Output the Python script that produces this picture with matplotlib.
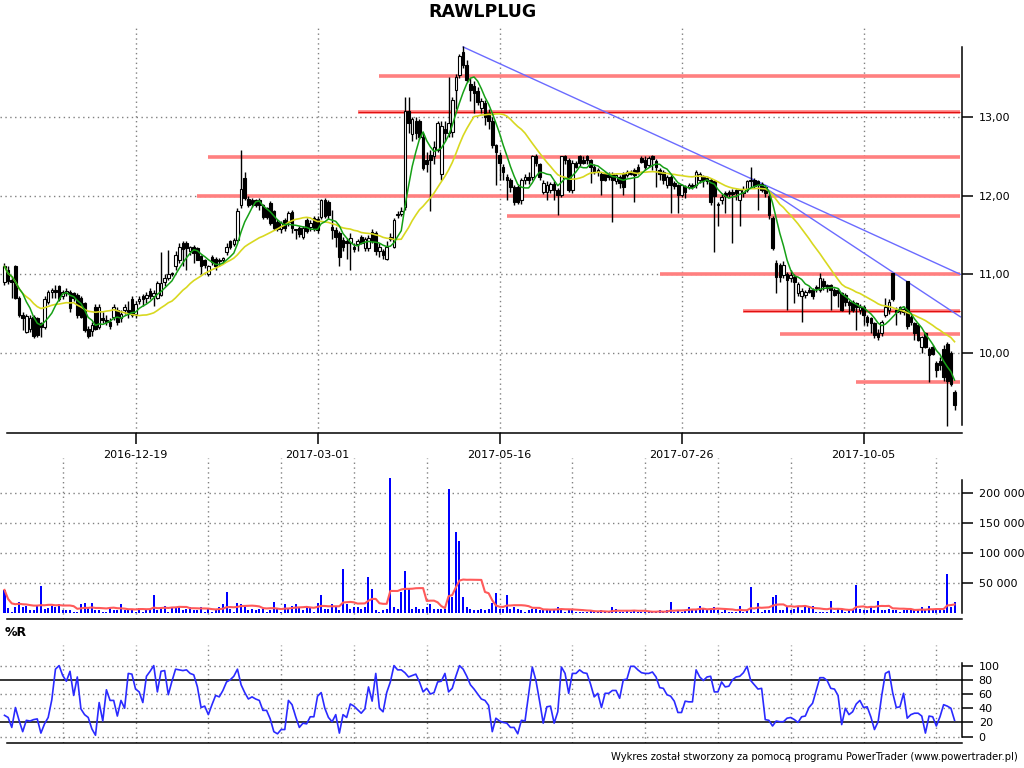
import numpy as np
import pandas as pd
import matplotlib
matplotlib.use('Agg')
import matplotlib.pyplot as plt

plt.rcParams['font.family'] = ['DejaVu Sans']

title = 'RAWLPLUG'
footer = 'Wykres został stworzony za pomocą programu PowerTrader (www.powertrader.pl)'

# sesje GPW (dni wolne)
holidays = ['2016-11-01', '2016-11-11', '2016-12-26', '2017-01-06', '2017-04-14',
            '2017-04-17', '2017-05-01', '2017-05-03', '2017-06-15', '2017-08-15',
            '2017-11-01']
dates = pd.bdate_range('2016-10-26', periods=262, freq='C', holidays=holidays)
label_dates = ['2016-12-19', '2017-03-01', '2017-05-16', '2017-07-26', '2017-10-05']

opens = [
    10.90, 11.05, 10.93, 11.10, 10.70, 10.48, 10.27, 10.30, 10.46, 10.44,
    10.38, 10.33, 10.65, 10.78, 10.80, 10.85, 10.72, 10.76, 10.78, 10.76,
    10.74, 10.70, 10.63, 10.30, 10.28, 10.59, 10.33, 10.45, 10.42, 10.40,
    10.46, 10.55, 10.45, 10.55, 10.55, 10.69, 10.50, 10.66, 10.72, 10.70,
    10.79, 10.72, 10.70, 10.74, 10.90, 10.95, 11.00, 11.10, 11.18, 11.40,
    11.40, 11.30, 11.35, 11.33, 11.23, 11.18, 11.00, 11.22, 11.20, 11.18,
    11.18, 11.29, 11.42, 11.38, 11.44, 11.88, 12.22, 11.96, 11.95, 11.94,
    11.95, 11.88, 11.84, 11.91, 11.80, 11.67, 11.57, 11.69, 11.66, 11.79,
    11.56, 11.59, 11.48, 11.69, 11.60, 11.72, 11.70, 11.73, 11.95, 11.92,
    11.60, 11.56, 11.52, 11.44, 11.42, 11.40, 11.35, 11.38, 11.48, 11.34,
    11.33, 11.54, 11.52, 11.30, 11.30, 11.20, 11.45, 11.35, 11.76, 11.77,
    11.86, 13.07, 12.78, 12.95, 12.95, 12.75, 12.45, 12.52, 12.50, 12.58,
    12.28, 12.85, 12.79, 12.81, 13.34, 13.53, 13.83, 13.66, 13.42, 13.40,
    13.33, 13.12, 13.18, 13.05, 12.95, 12.65, 12.52, 12.37, 12.24, 12.20,
    12.11, 12.11, 11.94, 12.20, 12.24, 12.24, 12.50, 12.40, 12.05, 12.05,
    12.07, 12.15, 12.07, 12.01, 12.50, 12.45, 12.07, 12.41, 12.50, 12.45,
    12.50, 12.45, 12.37, 12.30, 12.28, 12.28, 12.28, 12.28, 12.18, 12.24,
    12.28, 12.26, 12.30, 12.33, 12.37, 12.48, 12.45, 12.39, 12.50, 12.44,
    12.33, 12.30, 12.14, 12.24, 12.16, 12.13, 12.01, 12.11, 12.11, 12.14,
    12.13, 12.20, 12.24, 12.22, 12.20, 12.18, 11.88, 11.95, 12.03, 12.05,
    12.05, 12.07, 11.95, 12.03, 12.07, 12.18, 12.20, 12.18, 12.15, 12.11,
    11.99, 11.71, 11.14, 11.12, 10.99, 11.01, 10.95, 10.97, 10.76, 10.72,
    10.74, 10.80, 10.80, 10.82, 10.80, 10.92, 10.86, 10.86, 10.80, 10.80,
    10.76, 10.74, 10.65, 10.65, 10.63, 10.55, 10.59, 10.46, 10.44, 10.38,
    10.25, 10.25, 10.48, 10.55, 11.02, 10.55, 10.58, 10.52, 10.91, 10.46,
    10.38, 10.36, 10.08, 10.25, 10.05, 10.08, 9.87, 9.90, 10.05, 10.12,
    10.00, 9.51]

high = [
    11.15, 11.10, 10.98, 11.12, 10.72, 10.52, 10.50, 10.48, 10.48, 10.46,
    10.40, 10.72, 10.80, 10.82, 10.86, 10.87, 10.80, 10.83, 10.80, 10.78,
    10.76, 10.72, 10.65, 10.34, 10.40, 10.62, 10.62, 10.52, 10.48, 10.45,
    10.62, 10.58, 10.55, 10.62, 10.66, 10.72, 10.66, 10.72, 10.75, 10.78,
    10.82, 10.80, 10.92, 11.28, 11.00, 11.31, 11.03, 11.30, 11.40, 11.42,
    11.42, 11.36, 11.37, 11.35, 11.25, 11.20, 11.12, 11.25, 11.22, 11.21,
    11.22, 11.40, 11.44, 11.46, 11.84, 12.58, 12.30, 12.00, 11.97, 11.96,
    11.97, 11.90, 11.86, 11.93, 11.82, 11.70, 11.68, 11.71, 11.80, 11.82,
    11.57, 11.62, 11.62, 11.71, 11.69, 11.74, 11.74, 11.96, 11.97, 11.94,
    11.82, 11.60, 11.55, 11.48, 11.46, 11.52, 11.40, 11.45, 11.50, 11.48,
    11.50, 11.58, 11.55, 11.40, 11.32, 11.42, 11.52, 11.72, 11.80, 11.86,
    13.26, 13.26, 13.00, 13.00, 12.97, 12.79, 12.55, 12.58, 12.70, 12.95,
    12.95, 12.95, 13.51, 13.25, 13.55, 13.80, 13.90, 13.72, 13.50, 13.46,
    13.38, 13.24, 13.22, 13.10, 13.00, 12.66, 12.55, 12.40, 12.28, 12.22,
    12.14, 12.14, 12.22, 12.27, 12.30, 12.52, 12.53, 12.42, 12.20, 12.18,
    12.17, 12.18, 12.10, 12.50, 12.52, 12.48, 12.45, 12.44, 12.52, 12.50,
    12.52, 12.47, 12.40, 12.35, 12.30, 12.30, 12.30, 12.30, 12.28, 12.26,
    12.30, 12.32, 12.33, 12.35, 12.40, 12.50, 12.50, 12.50, 12.52, 12.46,
    12.35, 12.32, 12.26, 12.26, 12.18, 12.15, 12.14, 12.13, 12.16, 12.16,
    12.32, 12.30, 12.26, 12.24, 12.22, 12.20, 11.92, 12.02, 12.06, 12.07,
    12.08, 12.09, 12.08, 12.12, 12.20, 12.37, 12.23, 12.20, 12.17, 12.13,
    12.02, 11.74, 11.18, 11.14, 11.17, 11.03, 11.05, 11.00, 10.90, 10.82,
    10.80, 10.84, 10.82, 10.86, 11.02, 10.95, 10.88, 10.88, 10.82, 10.82,
    10.78, 10.76, 10.67, 10.67, 10.65, 10.62, 10.61, 10.48, 10.46, 10.40,
    10.30, 10.42, 10.70, 10.68, 11.02, 10.58, 10.60, 10.60, 10.91, 10.48,
    10.40, 10.38, 10.22, 10.27, 10.08, 10.10, 9.90, 9.95, 10.10, 10.14,
    10.02, 9.53]

low = [
    10.86, 10.88, 10.70, 10.68, 10.46, 10.29, 10.25, 10.27, 10.19, 10.20,
    10.20, 10.30, 10.62, 10.70, 10.70, 10.66, 10.68, 10.72, 10.52, 10.66,
    10.45, 10.44, 10.27, 10.19, 10.22, 10.29, 10.30, 10.38, 10.35, 10.30,
    10.42, 10.36, 10.40, 10.50, 10.45, 10.46, 10.45, 10.62, 10.60, 10.64,
    10.68, 10.60, 10.68, 10.72, 10.85, 10.93, 10.98, 11.05, 11.15, 11.10,
    11.05, 11.25, 11.14, 11.18, 11.00, 11.08, 10.98, 11.12, 11.05, 11.10,
    11.15, 11.25, 11.32, 11.36, 11.42, 11.84, 11.95, 11.86, 11.86, 11.86,
    11.82, 11.70, 11.70, 11.63, 11.56, 11.55, 11.52, 11.55, 11.62, 11.52,
    11.45, 11.48, 11.45, 11.52, 11.55, 11.55, 11.52, 11.70, 11.72, 11.70,
    11.45, 11.35, 11.10, 11.30, 11.20, 11.06, 11.28, 11.30, 11.38, 11.30,
    11.30, 11.40, 11.24, 11.22, 11.20, 11.18, 11.42, 11.33, 11.72, 11.74,
    11.82, 12.79, 12.70, 12.72, 12.72, 12.33, 12.30, 11.80, 12.40, 12.55,
    12.20, 12.70, 12.75, 12.74, 13.10, 13.50, 13.62, 13.45, 13.20, 13.05,
    13.15, 13.05, 12.90, 12.85, 12.60, 12.13, 12.20, 12.20, 11.94, 12.05,
    11.88, 11.90, 11.90, 12.15, 12.15, 12.20, 12.38, 12.20, 12.02, 11.94,
    12.03, 11.94, 11.75, 11.98, 12.40, 12.05, 12.04, 12.35, 12.38, 12.40,
    12.40, 12.16, 12.28, 12.25, 12.01, 12.18, 12.20, 11.67, 12.15, 12.10,
    12.01, 12.24, 12.26, 11.92, 12.28, 12.41, 12.33, 12.36, 12.33, 12.11,
    12.20, 12.15, 12.10, 11.78, 12.08, 11.78, 11.98, 11.97, 12.08, 12.08,
    12.10, 12.16, 12.11, 12.15, 11.88, 11.29, 11.61, 11.90, 11.78, 11.98,
    11.40, 11.95, 11.61, 11.98, 12.05, 12.10, 12.10, 11.82, 12.05, 11.98,
    11.70, 11.31, 10.76, 10.90, 10.95, 10.55, 10.90, 10.63, 10.72, 10.40,
    10.70, 10.76, 10.68, 10.78, 10.78, 10.80, 10.78, 10.55, 10.72, 10.59,
    10.53, 10.60, 10.50, 10.52, 10.29, 10.50, 10.36, 10.34, 10.25, 10.19,
    10.17, 10.22, 10.46, 10.50, 10.66, 10.36, 10.50, 10.48, 10.30, 10.36,
    10.17, 10.15, 10.00, 10.06, 9.63, 9.97, 9.70, 9.78, 9.65, 9.07,
    9.58, 9.28]

close = [
    11.10, 10.92, 10.90, 10.70, 10.48, 10.44, 10.47, 10.44, 10.21, 10.23,
    10.33, 10.69, 10.78, 10.80, 10.78, 10.69, 10.77, 10.79, 10.57, 10.70,
    10.48, 10.46, 10.29, 10.21, 10.36, 10.31, 10.59, 10.42, 10.40, 10.34,
    10.59, 10.40, 10.50, 10.59, 10.52, 10.48, 10.62, 10.69, 10.68, 10.74,
    10.72, 10.76, 10.89, 10.89, 10.95, 11.00, 11.01, 11.25, 11.35, 11.32,
    11.33, 11.35, 11.27, 11.18, 11.10, 11.12, 11.10, 11.16, 11.10, 11.17,
    11.21, 11.35, 11.35, 11.44, 11.80, 12.09, 11.97, 11.88, 11.90, 11.88,
    11.88, 11.73, 11.73, 11.65, 11.59, 11.57, 11.65, 11.59, 11.78, 11.59,
    11.56, 11.51, 11.59, 11.55, 11.65, 11.57, 11.56, 11.94, 11.74, 11.76,
    11.56, 11.48, 11.22, 11.35, 11.40, 11.46, 11.32, 11.42, 11.40, 11.45,
    11.46, 11.42, 11.30, 11.35, 11.24, 11.35, 11.48, 11.69, 11.77, 11.80,
    13.07, 12.92, 12.97, 12.80, 12.75, 12.35, 12.40, 12.45, 12.62, 12.92,
    12.88, 12.80, 12.92, 13.21, 13.51, 13.77, 13.66, 13.47, 13.34, 13.30,
    13.19, 13.20, 13.00, 12.95, 12.65, 12.55, 12.41, 12.30, 12.20, 12.11,
    11.92, 11.92, 12.20, 12.24, 12.20, 12.50, 12.41, 12.24, 12.16, 12.13,
    12.15, 12.07, 12.01, 12.50, 12.45, 12.07, 12.41, 12.37, 12.41, 12.42,
    12.45, 12.37, 12.30, 12.32, 12.20, 12.20, 12.24, 12.20, 12.26, 12.16,
    12.11, 12.30, 12.28, 12.26, 12.30, 12.43, 12.37, 12.48, 12.46, 12.37,
    12.28, 12.20, 12.24, 12.14, 12.12, 12.01, 12.13, 12.05, 12.14, 12.11,
    12.30, 12.28, 12.20, 12.18, 11.92, 12.00, 11.90, 11.98, 11.99, 12.02,
    12.02, 12.03, 12.07, 12.09, 12.18, 12.20, 12.12, 12.14, 12.07, 12.03,
    11.76, 11.33, 10.97, 10.97, 11.12, 10.93, 10.99, 10.90, 10.88, 10.79,
    10.78, 10.78, 10.72, 10.84, 10.95, 10.85, 10.82, 10.80, 10.74, 10.76,
    10.55, 10.65, 10.61, 10.55, 10.59, 10.59, 10.48, 10.40, 10.38, 10.23,
    10.20, 10.40, 10.59, 10.65, 10.68, 10.52, 10.53, 10.56, 10.34, 10.40,
    10.25, 10.17, 10.20, 10.08, 9.98, 9.99, 9.78, 9.85, 9.70, 9.65,
    9.61, 9.34]

volume = [
    38000, 7500, 1000, 10000, 18000, 10000, 12000, 5000, 5000, 12000,
    45000, 6000, 8000, 11000, 9000, 14000, 5000, 5000, 5000, 1000,
    1000, 14000, 16000, 10000, 17000, 5000, 5000, 1000, 1000, 10000,
    5000, 5000, 14000, 5000, 7000, 5000, 1000, 8000, 1000, 7000,
    7000, 30000, 5000, 7000, 12000, 1000, 9000, 10000, 10000, 5000,
    7000, 9000, 5000, 5000, 10000, 1000, 7000, 1000, 5000, 10000,
    14000, 34000, 7000, 1000, 17000, 14000, 10000, 5000, 6000, 5000,
    6000, 6000, 1000, 5000, 18000, 7000, 1000, 14000, 7000, 12000,
    14000, 9000, 5000, 10000, 9000, 1000, 16000, 30000, 6000, 7000,
    14000, 9000, 5000, 73000, 14000, 6000, 9000, 9000, 7000, 9000,
    59000, 39000, 5000, 1000, 4000, 6000, 224000, 9000, 6000, 34000,
    70000, 39000, 7000, 9000, 6000, 6000, 10000, 14000, 6000, 6000,
    7000, 6000, 206000, 27000, 134000, 120000, 27000, 10000, 7000, 5000,
    5000, 6000, 5000, 6000, 16000, 33000, 7000, 6000, 30000, 6000,
    10000, 6000, 5000, 1000, 5000, 6000, 6000, 5000, 5000, 5000,
    7000, 7000, 10000, 5000, 1000, 5000, 5000, 1000, 1000, 1000,
    1000, 5000, 1000, 1000, 5000, 1000, 1000, 10000, 7000, 1000,
    1000, 5000, 1000, 4000, 1000, 1000, 1000, 1000, 1000, 1000,
    5000, 1000, 4000, 18000, 1000, 5000, 1000, 4000, 9000, 5000,
    5000, 12000, 7000, 7000, 5000, 10000, 5000, 1000, 5000, 1000,
    1000, 1000, 12000, 1000, 5000, 43000, 1000, 16000, 1000, 5000,
    5000, 27000, 30000, 5000, 5000, 10000, 5000, 7000, 9000, 5000,
    10000, 11000, 12000, 1000, 1000, 1000, 1000, 20000, 1000, 7000,
    7000, 1000, 7000, 4000, 46000, 7000, 5000, 5000, 9000, 5000,
    20000, 5000, 5000, 7000, 5000, 5000, 1000, 5000, 5000, 4000,
    4000, 7000, 9000, 5000, 12000, 5000, 5000, 5000, 5000, 64000,
    10000, 18000]

# Williams %R (odczyt z wykresu)
pct_r = [
    30, 27, 13, 41, 23, 7, 23, 22, 24, 25,
    5, 18, 27, 52, 95, 100, 86, 78, 92, 58,
    84, 39, 31, 27, 11, 2, 48, 22, 66, 51,
    51, 29, 51, 40, 89, 88, 67, 63, 48, 85,
    92, 100, 63, 92, 93, 59, 78, 95, 94, 93,
    94, 89, 87, 70, 41, 43, 31, 45, 58, 56,
    65, 77, 80, 85, 95, 73, 62, 53, 56, 53,
    51, 37, 37, 25, 7, 4, 10, 10, 51, 45,
    28, 13, 19, 18, 28, 28, 57, 62, 40, 27,
    21, 31, 5, 31, 27, 46, 43, 38, 33, 39,
    70, 50, 89, 40, 35, 62, 77, 100, 94, 94,
    90, 84, 86, 88, 77, 63, 68, 60, 62, 77,
    78, 89, 63, 68, 85, 100, 95, 85, 73, 67,
    60, 53, 51, 44, 7, 26, 22, 20, 19, 13,
    13, 4, 23, 22, 60, 98, 79, 50, 19, 42,
    43, 19, 35, 98, 89, 61, 89, 89, 94, 90,
    89, 74, 56, 61, 41, 61, 61, 65, 65, 54,
    80, 81, 99, 99, 94, 90, 89, 89, 91, 84,
    69, 68, 59, 57, 50, 34, 34, 50, 49, 49,
    94, 84, 79, 84, 85, 63, 63, 77, 70, 71,
    80, 84, 85, 90, 99, 79, 73, 67, 68, 24,
    23, 15, 22, 21, 21, 26, 27, 24, 20, 28,
    29, 41, 47, 65, 83, 83, 79, 68, 67, 58,
    17, 40, 31, 35, 46, 51, 41, 42, 28, 10,
    21, 58, 89, 92, 62, 41, 42, 61, 26, 31,
    33, 33, 29, 5, 29, 28, 15, 28, 45, 43,
    40, 23]

# linie wsparcia / oporu: poziom, pierwsza sesja
sr_levels = [13.525, 13.067, 12.495, 12.0, 11.745, 11.008, 10.53, 10.245, 9.63]
sr_start = [103, 97, 56, 53, 138, 180, 203, 213, 234]
sr_strong = [13.067, 10.53]
# linie trendu (sesja, kurs)
trend_lines = [[(126, 13.89), (262.6, 11.0)],
               [(205, 12.22), (262.6, 10.46)]]

df = pd.DataFrame({'o': opens, 'h': high, 'l': low, 'c': close, 'v': volume,
                   'r': pct_r}, index=dates)
x = np.arange(len(df))
ma_short = df['c'].rolling(6, min_periods=1).mean()
ma_long = df['c'].rolling(20, min_periods=1).mean()
vol_ma = df['v'].rolling(10, min_periods=1).mean()

W, H = 1024, 768
fig = plt.figure(figsize=(W / 100, H / 100), dpi=100)

def px_axes(x0, y0, x1, y1):
    return fig.add_axes([x0 / W, 1 - y1 / H, (x1 - x0) / W, (y1 - y0) / H])

ax1 = px_axes(0, 28, 962, 433)
ax2 = px_axes(0, 458, 962, 619)
ax3 = px_axes(0, 645, 962, 742.7)

xl = (-1.236, 263.05)
dot = (0, (1, 2.5))
tick_pos = dates.get_indexer(pd.to_datetime(label_dates))
grid20 = np.arange(16, len(df), 20)

for ax in (ax1, ax2, ax3):
    ax.set_xlim(*xl)
    for s in ('top', 'left'):
        ax.spines[s].set_visible(False)
    ax.spines['right'].set_linewidth(1.1)
    ax.spines['bottom'].set_linewidth(1.1)
    ax.spines['bottom'].set_bounds(0.69, xl[1])
    ax.yaxis.tick_right()
    ax.tick_params(axis='y', direction='out', length=8, width=1.1, labelsize=8, pad=4)

# --- panel cen ---
ax1.set_ylim(8.983, 14.131)
ax1.spines['right'].set_bounds(9.085, 13.89)
for lv in [10, 11, 12, 13]:
    ax1.axhline(lv, color='#808080', lw=1, ls=dot, zorder=0)
for t in tick_pos:
    ax1.axvline(t, color='#808080', lw=1, ls=dot, zorder=0)

for lv, st in zip(sr_levels, sr_start):
    ax1.hlines(lv, st, 262.6, color='#ff8080', lw=2.6, zorder=1)
    if lv in sr_strong:
        ax1.hlines(lv, st, 262.6, color='#e01010', lw=0.8, zorder=1)
for (x0, y0), (x1, y1) in trend_lines:
    ax1.plot([x0, x1], [y0, y1], color='#6b6bff', lw=1, zorder=2)

up = df['c'] >= df['o']
ax1.vlines(x, df['l'], df['h'], color='black', lw=1, zorder=3)
ax1.bar(x, (df['c'] - df['o']).abs().clip(lower=0.012), bottom=np.minimum(df['o'], df['c']),
        width=0.72, color=np.where(up, 'white', 'black'), edgecolor='black', lw=0.8, zorder=4)
ax1.plot(x, ma_long, color='#d8d820', lw=1.2, zorder=5)
ax1.plot(x, ma_short, color='#16a016', lw=1.1, zorder=6)

ax1.set_yticks([10, 11, 12, 13])
ax1.set_yticklabels(['10,00', '11,00', '12,00', '13,00'])
ax1.set_xticks(tick_pos)
ax1.set_xticklabels(label_dates)
ax1.tick_params(axis='x', direction='out', length=8, width=1.1, labelsize=8, pad=4)

# --- panel wolumenu ---
ax2.set_ylim(-10500, 258000)
ax2.spines['right'].set_bounds(0, 221000)
for lv in [50000, 100000, 150000, 200000]:
    ax2.axhline(lv, color='#808080', lw=1, ls=dot, zorder=0)
for t in grid20:
    ax2.axvline(t, color='#808080', lw=1, ls=dot, zorder=0)
ax2.bar(x, df['v'], width=0.55, color='#0000ff', zorder=2)
ax2.plot(x, vol_ma, color='#ff5a5a', lw=1.5, zorder=3)
ax2.set_yticks([50000, 100000, 150000, 200000])
ax2.set_yticklabels(['50 000', '100 000', '150 000', '200 000'])
ax2.set_xticks([])

# --- panel %R ---
ax3.set_ylim(-8.5, 129)
ax3.spines['right'].set_bounds(0, 103.8)
for lv in [0, 40, 60, 100]:
    ax3.axhline(lv, color='#808080', lw=1, ls=dot, zorder=0)
for lv in [20, 80]:
    ax3.axhline(lv, color='black', lw=1.1, zorder=1)
for t in grid20:
    ax3.axvline(t, color='#808080', lw=1, ls=dot, zorder=0)
ax3.plot(x, df['r'], color='#2a2aff', lw=1.2, zorder=3)
ax3.set_yticks([0, 20, 40, 60, 80, 100])
ax3.set_yticklabels(['0', '20', '40', '60', '80', '100'])
ax3.set_xticks([])

fig.text(482 / W, 1 - 12 / H, title, ha='center', va='center', fontsize=12.5, fontweight='bold')
fig.text(5 / W, 1 - 632 / H, '%R', ha='left', va='center', fontsize=9, fontweight='bold')
fig.text(1018 / W, 1 - 757 / H, footer, ha='right', va='center', fontsize=7.2)

fig.savefig('out.png', dpi=100)
